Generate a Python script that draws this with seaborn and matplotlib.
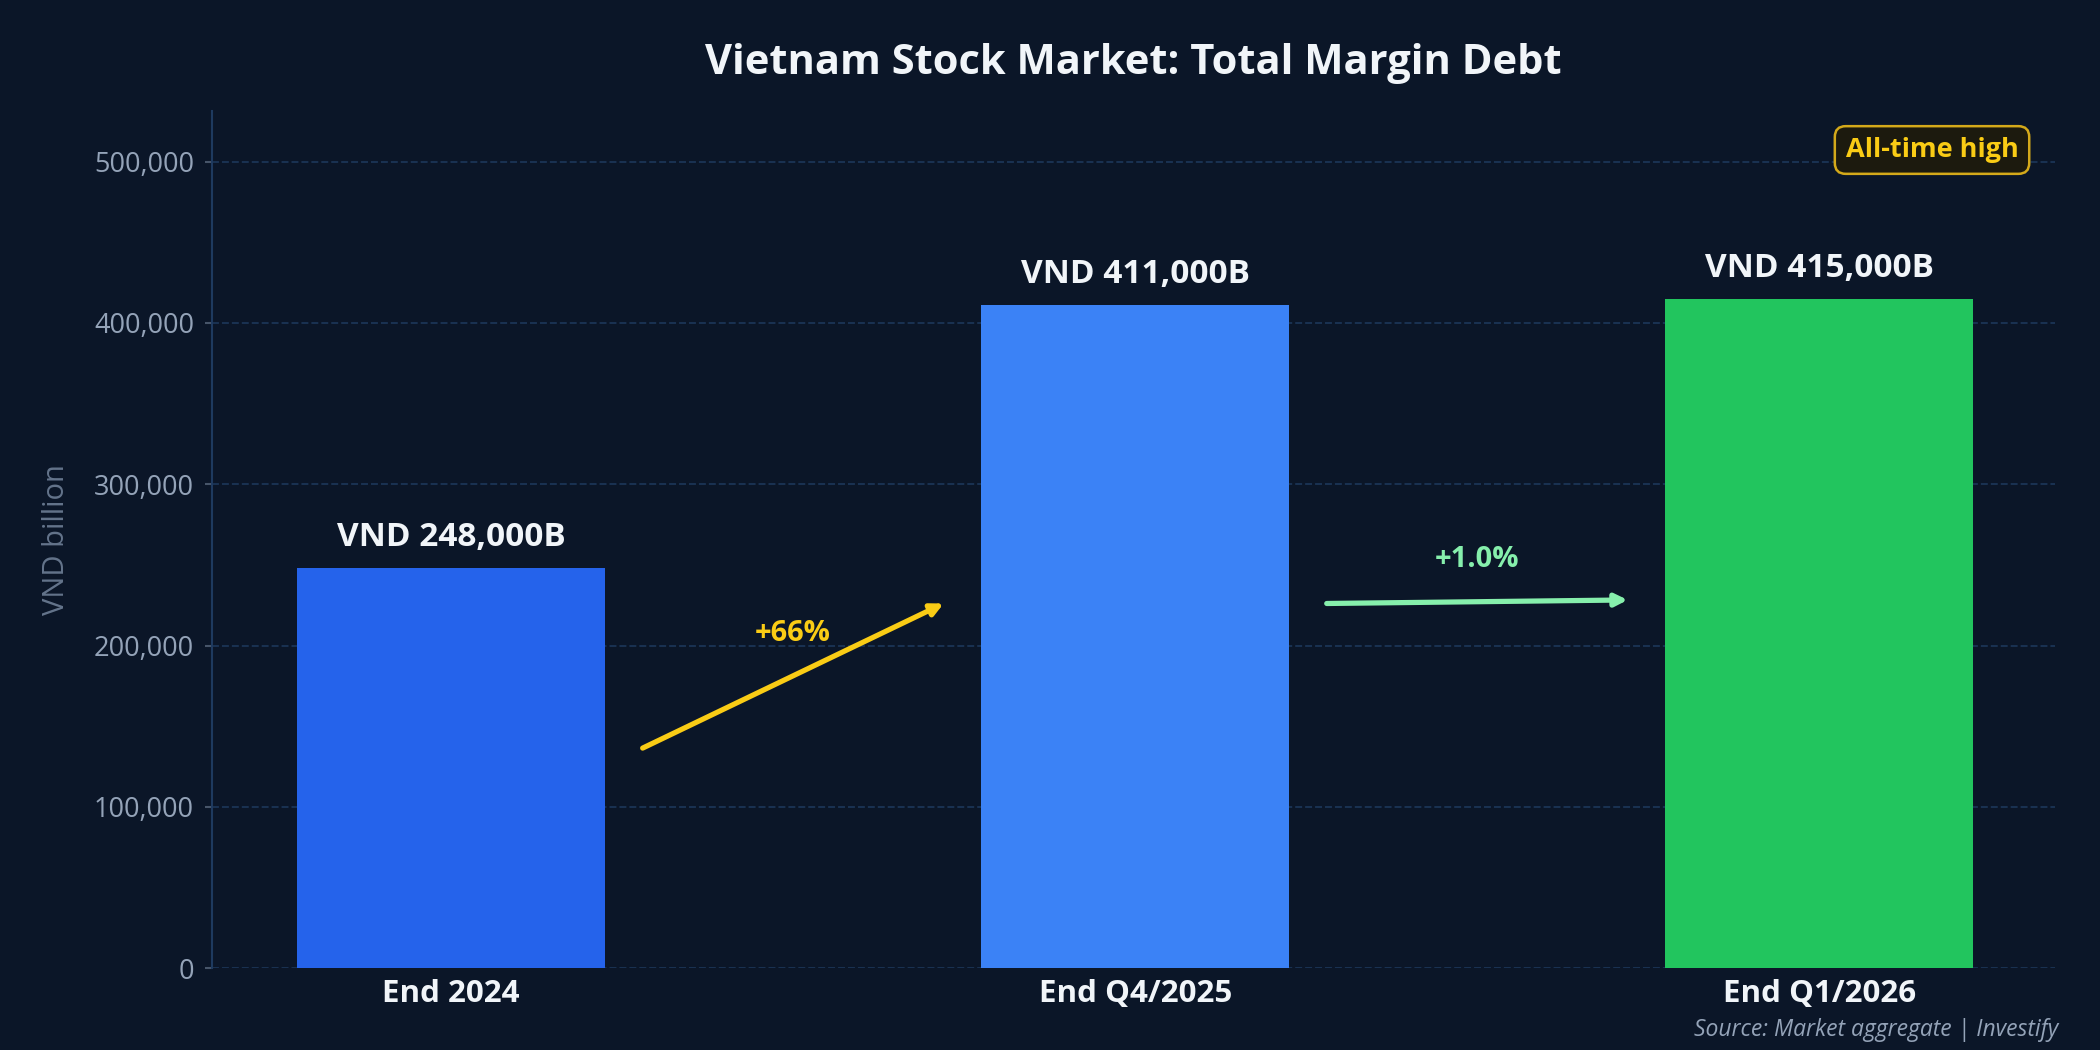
import matplotlib
matplotlib.use("Agg")
import matplotlib.pyplot as plt
import seaborn as sns
import pandas as pd
from matplotlib.ticker import FuncFormatter

categories = ["End 2024", "End Q4/2025", "End Q1/2026"]
values = [248000, 411000, 415000]
value_labels = ["VND 248,000B", "VND 411,000B", "VND 415,000B"]
change_labels = ["+66%", "+1.0%"]
bar_colors = ["#2563eb", "#3b82f6", "#22c55e"]
change_colors = ["#facc15", "#86efac"]
yticks = [0, 100000, 200000, 300000, 400000, 500000]

BG = "#0b1628"
sns.set_theme(style="dark")
plt.rcParams["font.family"] = ["Open Sans", "Noto Sans", "DejaVu Sans"]

df = pd.DataFrame({"cat": categories, "val": values})

fig = plt.figure(figsize=(14, 7), dpi=150, facecolor=BG)
ax = fig.add_axes([0.1008, 0.078, 0.8779, 0.816])
ax.set_facecolor(BG)

sns.barplot(data=df, x="cat", y="val", hue="cat", palette=bar_colors,
            width=0.45, legend=False, ax=ax, saturation=1, zorder=3,
            edgecolor="none", linewidth=0)

ax.set_ylim(0, max(values) * 1.28)
ax.set_xlim(-0.35, 2.345)
ax.set_yticks(yticks)
ax.yaxis.set_major_formatter(FuncFormatter(lambda v, p: f"{int(v):,}"))
ax.grid(axis="y", color="#1e3a5f", linestyle="--", linewidth=0.9, alpha=0.8, zorder=0)
ax.grid(axis="x", visible=False)

for s in ["top", "right", "bottom"]:
    ax.spines[s].set_visible(False)
ax.spines["left"].set_color("#1e3a5f")
ax.spines["left"].set_linewidth(1.0)

ax.tick_params(axis="y", colors="#94a3b8", labelsize=13, length=3.5, width=1, pad=5, left=True)
ax.tick_params(axis="y", color="#475569")
ax.tick_params(axis="x", length=0, pad=5)
for lbl in ax.get_xticklabels():
    lbl.set_fontsize(15)
    lbl.set_fontweight("bold")
    lbl.set_color("#f1f5f9")

ax.set_xlabel("")
ax.set_ylabel("VND billion", fontsize=14, color="#64748b", labelpad=11)

ax.set_title("Vietnam Stock Market: Total Margin Debt", fontsize=20, fontweight="bold",
             color="#f1f5f9", pad=18)

for i, (v, t) in enumerate(zip(values, value_labels)):
    ax.text(i, v + 19000, t, ha="center", va="center", fontsize=16,
            fontweight="bold", color="#f1f5f9", zorder=5)

for i, (t, c) in enumerate(zip(change_labels, change_colors)):
    y0 = values[i] * 0.55
    y1 = values[i + 1] * 0.55
    ax.annotate("", xy=(i + 0.72, y1), xytext=(i + 0.28, y0),
                arrowprops=dict(arrowstyle="-|>", color=c, lw=2.5,
                                mutation_scale=12, shrinkA=0, shrinkB=0),
                zorder=5)
    ax.text(i + 0.5, (y0 + y1) / 2 + 26000, t, ha="center", va="center",
            fontsize=14, fontweight="bold", color=c, zorder=5)

ax.text(0.98, 0.97, "All-time high", transform=ax.transAxes, ha="right", va="top",
        fontsize=13, fontweight="bold", color="#facc15", zorder=6,
        bbox=dict(boxstyle="round,pad=0.4", facecolor="#1c1a0e", edgecolor="#d4a91a",
                  linewidth=1.2))

fig.text(0.98, 0.008, "Source: Market aggregate | Investify", ha="right", va="bottom",
         fontsize=11, style="italic", color="#94a3b8")

fig.savefig("out.png", dpi=150, facecolor=BG)
